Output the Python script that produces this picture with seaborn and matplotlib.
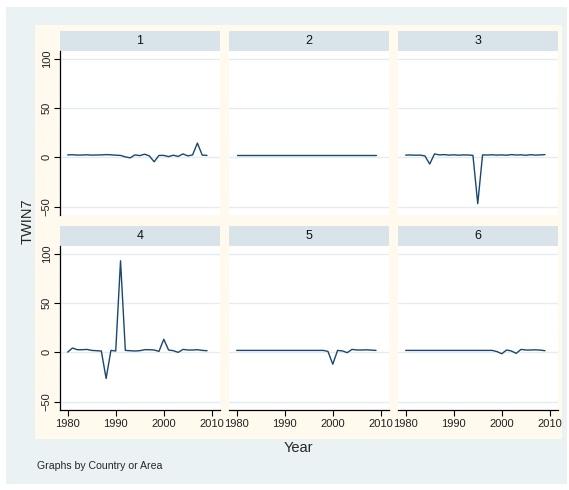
import matplotlib
matplotlib.use("Agg")
import matplotlib.pyplot as plt
import seaborn as sns
import pandas as pd
from matplotlib.patches import Rectangle

years = list(range(1980, 2010))
panels = ["1", "2", "3", "4", "5", "6"]
twin7_1 = [2.5, 2.7, 2.3, 2.4, 2.6, 2.3, 2.4, 2.5, 2.8, 2.6, 2.2, 2.0, 0.5, -0.5, 2.5, 1.8,
           3.2, 1.5, -4.5, 2.0, 2.0, 0.8, 2.2, 1.0, 3.5, 1.5, 2.5, 14.5, 2.3, 2.0]
twin7_2 = [2.7] * 30
twin7_3 = [2.3, 2.4, 2.2, 2.3, 1.5, -6.8, 3.5, 2.5, 2.8, 2.3, 2.6, 2.2, 2.5, 2.4, 2.0, -47.0,
           2.5, 2.4, 2.6, 2.3, 2.5, 2.2, 2.8, 2.4, 2.6, 2.1, 2.7, 2.3, 2.5, 2.8]
twin7_4 = [0.3, 4.4, 2.7, 2.7, 3.0, 2.0, 1.7, 1.4, -26.5, 2.0, 1.4, 93.0, 2.0, 1.7, 1.4, 1.7,
           2.7, 2.7, 2.4, 1.0, 13.3, 2.4, 1.7, 0.0, 3.0, 2.4, 2.4, 2.7, 2.0, 1.7]
twin7_5 = [2.0] * 19 + [1.0, -12.0, 2.0, 1.5, -0.3, 3.0, 2.4, 2.4, 2.6, 2.3, 2.0]
twin7_6 = [2.0] * 19 + [0.8, -1.4, 2.4, 1.4, -1.0, 3.0, 2.4, 2.4, 2.6, 2.3, 1.7]
series = [twin7_1, twin7_2, twin7_3, twin7_4, twin7_5, twin7_6]
x_ticks = [1980, 1990, 2000, 2010]
y_ticks = [-50, 0, 50, 100]

rows = []
for p, vals in zip(panels, series):
    for yr, v in zip(years, vals):
        rows.append({"Country or Area": p, "Year": yr, "TWIN7": v})
df = pd.DataFrame(rows)

sns.set_style("white")
plt.rcParams["font.family"] = ["Liberation Sans", "DejaVu Sans"]

W, H = 569, 490
fig = plt.figure(figsize=(W / 100, H / 100), dpi=100)
fig.patch.set_facecolor("white")

def fx(x):
    return x / W

def fy(y):
    return 1 - y / H

# outer light bluish region
fig.patches.append(Rectangle((fx(6), fy(484)), fx(567) - fx(6), fy(7) - fy(484),
                             transform=fig.transFigure, facecolor="#EAF2F3",
                             edgecolor="none", zorder=-3))
# inner cream region
fig.patches.append(Rectangle((fx(35), fy(439)), fx(562) - fx(35), fy(25) - fy(439),
                             transform=fig.transFigure, facecolor="#FFF9EE",
                             edgecolor="none", zorder=-2))

col_left = [60, 229, 398]
col_w = 159.5
row_top = [51, 246]
row_h = 163.5
strip_h = 20
line_color = "#1A476F"

for i, (p, vals) in enumerate(zip(panels, series)):
    r, c = divmod(i, 3)
    l = col_left[c]
    t = row_top[r]
    ax = fig.add_axes([fx(l), fy(t + row_h), col_w / W, row_h / H])
    ax.set_zorder(2)
    ax.set_facecolor("white")
    sub = df[df["Country or Area"] == p]
    sns.lineplot(data=sub, x="Year", y="TWIN7", ax=ax, color=line_color,
                 linewidth=1.0, zorder=3)
    ax.set_xlim(1978.4, 2011.6)
    ax.set_ylim(-58, 108)
    ax.set_yticks(y_ticks)
    ax.set_xticks(x_ticks)
    for yv in y_ticks:
        ax.axhline(yv, color="#E3EDF1", linewidth=1.0, zorder=1)
    ax.set_xlabel("")
    ax.set_ylabel("")
    for s in ["top", "right", "left", "bottom"]:
        ax.spines[s].set_visible(False)
    if c == 0:
        ax.spines["left"].set_visible(True)
        ax.spines["left"].set_color("black")
        ax.spines["left"].set_linewidth(0.9)
        ax.tick_params(axis="y", left=True, length=4, width=0.8, color="black",
                       labelsize=8, pad=2, labelcolor="#222222")
        for lab in ax.get_yticklabels():
            lab.set_rotation(90)
            lab.set_va("center")
    else:
        ax.tick_params(axis="y", left=False, labelleft=False)
    if r == 1:
        ax.spines["bottom"].set_visible(True)
        ax.spines["bottom"].set_color("black")
        ax.spines["bottom"].set_linewidth(0.9)
        ax.tick_params(axis="x", bottom=True, length=4, width=0.8, color="black",
                       labelsize=8, pad=3, labelcolor="#222222")
    else:
        ax.tick_params(axis="x", bottom=False, labelbottom=False)
    # strip header
    fig.patches.append(Rectangle((fx(l), fy(t)), col_w / W, strip_h / H,
                                 transform=fig.transFigure, facecolor="#D8E4EA",
                                 edgecolor="none", zorder=1))
    fig.text(fx(l + col_w / 2), fy(t - strip_h / 2), p, ha="center", va="center",
             fontsize=9, color="#111111")

fig.text(fx(298), fy(448), "Year", ha="center", va="center", fontsize=10.5)
fig.text(fx(28), fy(221), "TWIN7", ha="center", va="center", fontsize=10.5, rotation=90)
fig.text(fx(37), fy(466), "Graphs by Country or Area", ha="left", va="center", fontsize=7.6)

fig.savefig("out.png", dpi=100)
